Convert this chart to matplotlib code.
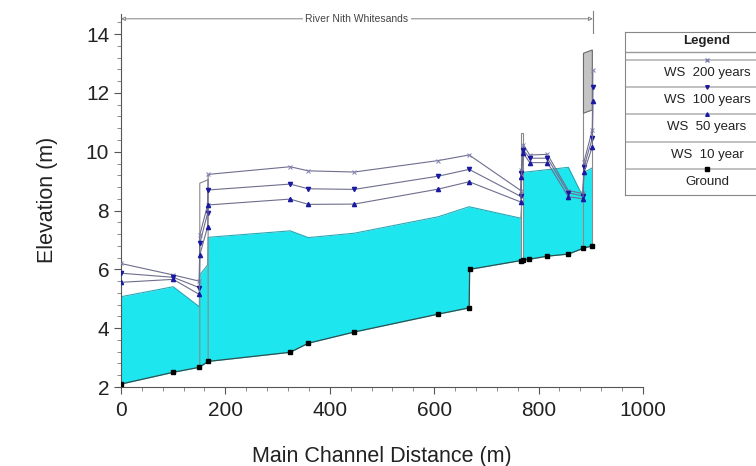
import numpy as np
import matplotlib
matplotlib.use("Agg")
import matplotlib.pyplot as plt
from matplotlib.ticker import MultipleLocator

plt.rcParams['font.family'] = ['Liberation Sans', 'DejaVu Sans']

# main channel invert (ground)
ground_x = [0, 100, 150, 167, 324, 359, 447, 608, 667, 668, 766, 771, 781, 817, 857, 886, 903]
ground_y = [2.10, 2.50, 2.67, 2.87, 3.18, 3.49, 3.87, 4.48, 4.69, 6.00, 6.30, 6.32, 6.34, 6.45, 6.52, 6.72, 6.80]

# 10 year water surface (drawn as the filled water)
ws10_x = [0, 100, 150, 151, 166, 167, 324, 359, 447, 608, 667, 766, 771, 857, 885, 887, 903]
ws10_y = [5.07, 5.41, 4.73, 5.81, 6.15, 7.09, 7.31, 7.08, 7.23, 7.79, 8.13, 7.74, 9.30, 9.47, 8.47, 9.30, 9.45]

# other profiles share the same stations
ws_x = [0, 100, 150, 151, 166, 167, 324, 359, 447, 608, 667, 766, 767, 771, 783, 817, 857, 885, 887, 903, 904]
ws200_y = [6.20, 5.81, 5.60, 7.17, 8.19, 9.23, 9.49, 9.35, 9.31, 9.70, 9.89, 8.68, 9.38, 10.23, 9.89, 9.91, 8.68, 8.58, 9.66, 10.74, 12.78]
ws100_y = [5.87, 5.73, 5.38, 6.88, 7.91, 8.70, 8.90, 8.74, 8.72, 9.17, 9.40, 8.48, 9.27, 10.06, 9.78, 9.78, 8.60, 8.50, 9.49, 10.46, 12.21]
ws50_y = [5.56, 5.66, 5.15, 6.49, 7.45, 8.19, 8.39, 8.21, 8.22, 8.73, 8.98, 8.29, 9.15, 9.95, 9.63, 9.63, 8.47, 8.40, 9.32, 10.17, 11.73]

# structures
bridge1_x = [151, 167]
bridge1_top = [8.93, 9.05]
weir_x = [766, 771]
weir_top = 10.63
bridge2_x = [886, 903]
bridge2_low = [11.31, 11.42]
bridge2_high = [13.35, 13.46]

reach_name = "River Nith Whitesands"
reach_end = 904

legend_rows = [("WS  200 years", "x", "#8080b0"),
               ("WS  100 years", "v", "#1a1aa0"),
               ("WS  50 years", "^", "#1a1aa0"),
               ("WS  10 year", None, None),
               ("Ground", "s", "black")]

fig = plt.figure(figsize=(7.56, 4.66), dpi=100)
ax = fig.add_axes([0.160, 0.1695, 0.6905, 0.8015])

# water fill between ground and 10 year WS
u = np.array(sorted(set(ground_x + ws10_x)), dtype=float)
g = np.interp(u, ground_x, ground_y)
w = np.interp(u, ws10_x, ws10_y)
ax.fill_between(u, g, w, color="#1ee6ef", lw=0, zorder=1)
ax.plot(ws10_x, ws10_y, color="#2aa7b5", lw=0.8, zorder=2)

# structures
line_c = "#8a8a8a"
g1 = np.interp(bridge1_x, ground_x, ground_y)
ax.plot([bridge1_x[0], bridge1_x[0], bridge1_x[1], bridge1_x[1]],
        [g1[0], bridge1_top[0], bridge1_top[1], g1[1]], color=line_c, lw=0.8, zorder=3)

gw = np.interp(weir_x, ground_x, ground_y)
ax.fill([weir_x[0], weir_x[0], weir_x[1], weir_x[1]],
        [gw[0], weir_top, weir_top, gw[1]], facecolor="white", edgecolor=line_c, lw=0.8, zorder=3)

g2 = np.interp(bridge2_x, ground_x, ground_y)
ax.plot([bridge2_x[0], bridge2_x[0]], [g2[0], bridge2_low[0]], color=line_c, lw=0.8, zorder=3)
ax.plot([bridge2_x[1], bridge2_x[1]], [g2[1], bridge2_low[1]], color=line_c, lw=0.8, zorder=3)
ax.fill([bridge2_x[0], bridge2_x[1], bridge2_x[1], bridge2_x[0]],
        [bridge2_low[0], bridge2_low[1], bridge2_high[1], bridge2_high[0]],
        facecolor="#c4c4c4", edgecolor="#6a6a6a", lw=0.8, zorder=3)

# profiles
ws_line = "#6e6e8e"
ax.plot(ws_x, ws200_y, color=ws_line, lw=0.8, marker="x", ms=2.6, mec="#8080b0", mew=0.7, zorder=4)
ax.plot(ws_x, ws100_y, color=ws_line, lw=0.8, marker="v", ms=3, mfc="#1a1aa0", mec="#1a1aa0", zorder=4)
ax.plot(ws_x, ws50_y, color=ws_line, lw=0.8, marker="^", ms=3, mfc="#1a1aa0", mec="#1a1aa0", zorder=4)
ax.plot(ground_x, ground_y, color="#2f5050", lw=0.9, marker="s", ms=2.6, mfc="black", mec="black", zorder=5)

# reach arrow on top
ax.annotate("", xy=(0, 14.52), xytext=(reach_end, 14.52),
            arrowprops=dict(arrowstyle="<|-|>", color="#808080", lw=0.7,
                            mutation_scale=6, shrinkA=0, shrinkB=0, fc="white"),
            annotation_clip=False)
ax.plot([reach_end, reach_end], [14.05, 14.8], color="#808080", lw=0.8, clip_on=False)
ax.text(reach_end / 2, 14.52, reach_name, ha="center", va="center", fontsize=7.5,
        color="#444444", bbox=dict(facecolor="white", edgecolor="none", pad=2))

ax.set_xlim(0, 1000)
ax.set_ylim(2, 14.7)
ax.xaxis.set_major_locator(MultipleLocator(200))
ax.xaxis.set_minor_locator(MultipleLocator(40))
ax.yaxis.set_major_locator(MultipleLocator(2))
ax.yaxis.set_minor_locator(MultipleLocator(0.4))
for s in ["top", "right"]:
    ax.spines[s].set_visible(False)
for s in ["left", "bottom"]:
    ax.spines[s].set_color("#555555")
    ax.spines[s].set_linewidth(0.8)
ax.tick_params(which="major", length=5, width=0.8, color="#555555", labelsize=15, labelcolor="#222222")
ax.tick_params(axis="x", which="major", pad=5)
ax.tick_params(which="minor", length=3, width=0.6, color="#777777")
ax.set_xlabel("Main Channel Distance (m)", fontsize=15.5, color="#222222", labelpad=19)
ax.set_ylabel("Elevation (m)", fontsize=15.5, color="#222222", labelpad=20)

# legend box (HEC-RAS style, runs off the right edge)
top_px, bot_px = 31.7, 195.0
lg = fig.add_axes([625 / 756, 1 - bot_px / 466, 164 / 756, (bot_px - top_px) / 466])
lg.set_xlim(0, 1)
lg.set_ylim(bot_px, top_px)
lg.set_xticks([])
lg.set_yticks([])
for s in lg.spines.values():
    s.set_color("#888888")
    s.set_linewidth(0.8)
lg.text(0.5, 41, "Legend", ha="center", va="center", fontsize=9.5, fontweight="bold", color="#222222")
lg.axhline(52, color="#999999", lw=1.0)
row_h = 27.2
for i, (label, mk, mc) in enumerate(legend_rows):
    ly = 60 + i * row_h
    lg.axhline(ly, color="#b5b5b5", lw=1.2)
    if mk is not None:
        lg.plot([0.5], [ly], marker=mk, ms=2.6, color=mc, mec=mc)
    lg.text(0.5, ly + 13, label, ha="center", va="center", fontsize=9.5, color="#222222")

fig.savefig("out.png", dpi=100)
